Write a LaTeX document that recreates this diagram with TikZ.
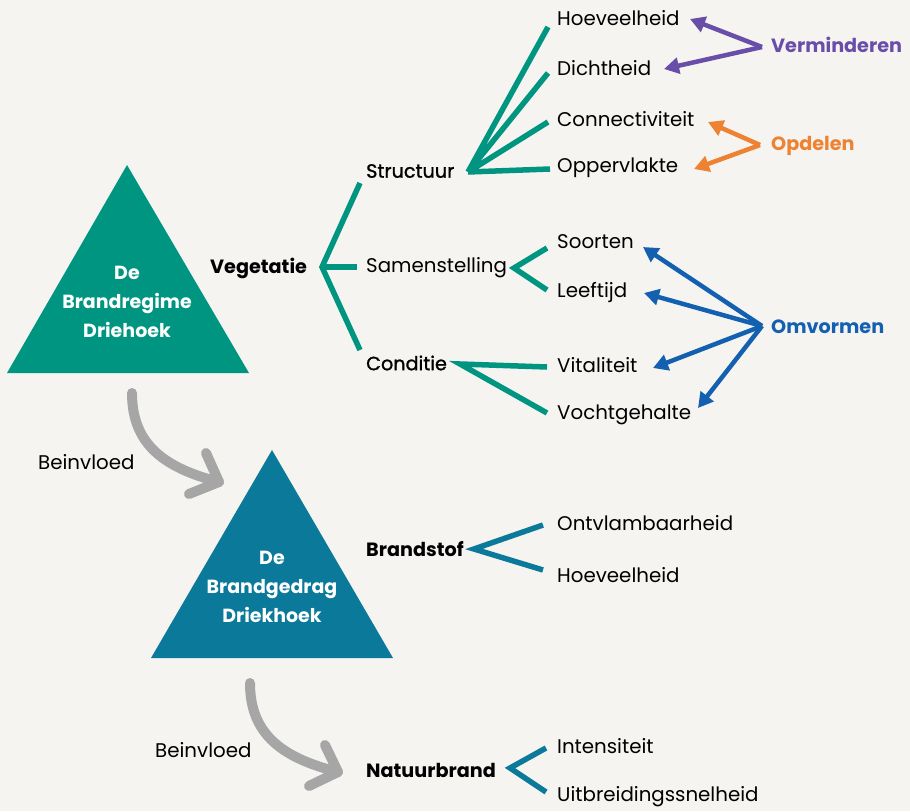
\documentclass[tikz,border=0pt]{standalone}
\usepackage{fontspec}
\setmainfont{Poppins}
\newfontfamily\medfont{Poppins}[FakeBold=1.2]
\usetikzlibrary{arrows.meta}
\definecolor{bg}{RGB}{245,244,241}
\definecolor{teal}{RGB}{0,149,128}
\definecolor{petrol}{RGB}{10,121,154}
\definecolor{greyarrow}{RGB}{166,166,166}
\definecolor{purp}{RGB}{104,78,168}
\definecolor{orng}{RGB}{238,130,51}
\definecolor{blu}{RGB}{20,96,176}
\begin{document}
\begin{tikzpicture}[x=1pt,y=-1pt,
  txt/.style={anchor=west,inner sep=0pt,font=\fontsize{19.8}{22}\selectfont,text=black},
  bold/.style={txt,font=\fontsize{19.2}{22}\selectfont\bfseries},
  medium/.style={txt,font=\fontsize{19.2}{22}\selectfont\medfont},
  tri/.style={font=\fontsize{19}{29}\selectfont\bfseries,text=white,align=center,inner sep=0pt},
  tealline/.style={draw=teal,line width=5.5pt},
  petline/.style={draw=petrol,line width=5.5pt},
  arr/.style={line width=4.5pt,-{Triangle[length=15pt,width=16pt]}},
  grey/.style={draw=greyarrow,line width=10pt,line cap=round,line join=round},
  verb/.style={anchor=west,inner sep=0pt,font=\fontsize{19.2}{22}\selectfont\bfseries}]
\useasboundingbox[fill=bg] (0,0) rectangle (910,811);

% triangles
\fill[teal] (127,165) -- (249,373) -- (7,373) -- cycle;
\node[tri] (t1) at (127,302) {De\\Brandregime\\Driehoek};
\fill[petrol] (272,450) -- (393,658) -- (151,658) -- cycle;
\node[tri] (t2) at (272,587) {De\\Brandgedrag\\Driekhoek};

% grey influence arrows
\coordinate (g1s) at (132,393);
\coordinate (g1t) at (219,482);
\coordinate (g1a) at (206,453);
\coordinate (g1b) at (189,494);
\draw[grey] (g1s) .. controls (132,445) and (165,468) .. (g1t);
\draw[grey] (g1a) -- (g1t) -- (g1b);
\node[txt] (b1) at (38,462) {Beinvloed};

\coordinate (g2s) at (250,683);
\coordinate (g2t) at (338,772);
\coordinate (g2a) at (325,745);
\coordinate (g2b) at (309,786);
\draw[grey] (g2s) .. controls (250,735) and (283,758) .. (g2t);
\draw[grey] (g2a) -- (g2t) -- (g2b);
\node[txt] (b2) at (155,750) {Beinvloed};

% Vegetatie
\node[bold] (veg) at (210,268) {Vegetatie};
\coordinate (vv) at (322,267);
\coordinate (v1) at (360,183);
\coordinate (v2) at (357,267);
\coordinate (v3) at (360,350);
\draw[tealline] (v1) -- (vv) -- (v3);
\draw[tealline] (vv) -- (v2);

\node[medium] (str) at (366,171) {Structuur};
\node[txt] (sam) at (366,268) {Samenstelling};
\node[medium] (con) at (366,363) {Conditie};

% Structuur
\coordinate (sv) at (468,172);
\coordinate (s1) at (548,27);
\coordinate (s2) at (548,73);
\coordinate (s3) at (548,122);
\coordinate (s4) at (550,169);
\draw[tealline] (sv) -- (s1) (sv) -- (s2) (sv) -- (s3) (sv) -- (s4);
\node[txt] (hoe) at (557,18) {Hoeveelheid};
\node[txt] (dic) at (557,68) {Dichtheid};
\node[txt] (cnn) at (557,119) {Connectiviteit};
\node[txt] (opp) at (557,168) {Oppervlakte};

% Samenstelling
\coordinate (mv) at (514,268);
\coordinate (m1) at (547,248);
\coordinate (m2) at (547,290);
\draw[tealline] (m1) -- (mv) -- (m2);
\node[txt] (soo) at (557,242) {Soorten};
\node[txt] (lee) at (557,293) {Leeftijd};

% Conditie
\coordinate (cv) at (460,364);
\coordinate (c1) at (547,367);
\coordinate (c2) at (547,413);
\draw[tealline] (c1) -- (cv) -- (c2);
\node[txt] (vit) at (557,365) {Vitaliteit};
\node[txt] (voc) at (557,415) {Vochtgehalte};

% Verminderen
\node[verb,text=purp] (ver) at (771,45) {Verminderen};
\coordinate (pv) at (762,47);
\coordinate (p1) at (690,19);
\coordinate (p2) at (664,69);
\draw[arr,purp] (pv) -- (p1);
\draw[arr,purp] (pv) -- (p2);

% Opdelen
\node[verb,text=orng] (opd) at (771,146) {Opdelen};
\coordinate (ov) at (760,145);
\coordinate (o1) at (708,122);
\coordinate (o2) at (694,169);
\draw[arr,orng] (ov) -- (o1);
\draw[arr,orng] (ov) -- (o2);

% Omvormen
\node[verb,text=blu] (omv) at (771,327) {Omvormen};
\coordinate (bv) at (762,326);
\coordinate (bb1) at (643,247);
\coordinate (bb2) at (644,293);
\coordinate (bb3) at (653,368);
\coordinate (bb4) at (698,408);
\draw[arr,blu] (bv) -- (bb1);
\draw[arr,blu] (bv) -- (bb2);
\draw[arr,blu] (bv) -- (bb3);
\draw[arr,blu] (bv) -- (bb4);

% Brandstof
\node[bold] (bra) at (366,549) {Brandstof};
\coordinate (fv) at (474,549);
\coordinate (f1) at (543,525);
\coordinate (f2) at (543,570);
\draw[petline] (f1) -- (fv) -- (f2);
\node[txt] (ont) at (557,523) {Ontvlambaarheid};
\node[txt] (hv2) at (557,575) {Hoeveelheid};

% Natuurbrand
\node[bold] (nat) at (366,770) {Natuurbrand};
\coordinate (nv) at (510,768);
\coordinate (n1) at (546,748);
\coordinate (n2) at (546,792);
\draw[petline] (n1) -- (nv) -- (n2);
\node[txt] (int) at (557,746) {Intensiteit};
\node[txt] (uit) at (557,797) {Uitbreidingssnelheid};
\end{tikzpicture}
\end{document}
